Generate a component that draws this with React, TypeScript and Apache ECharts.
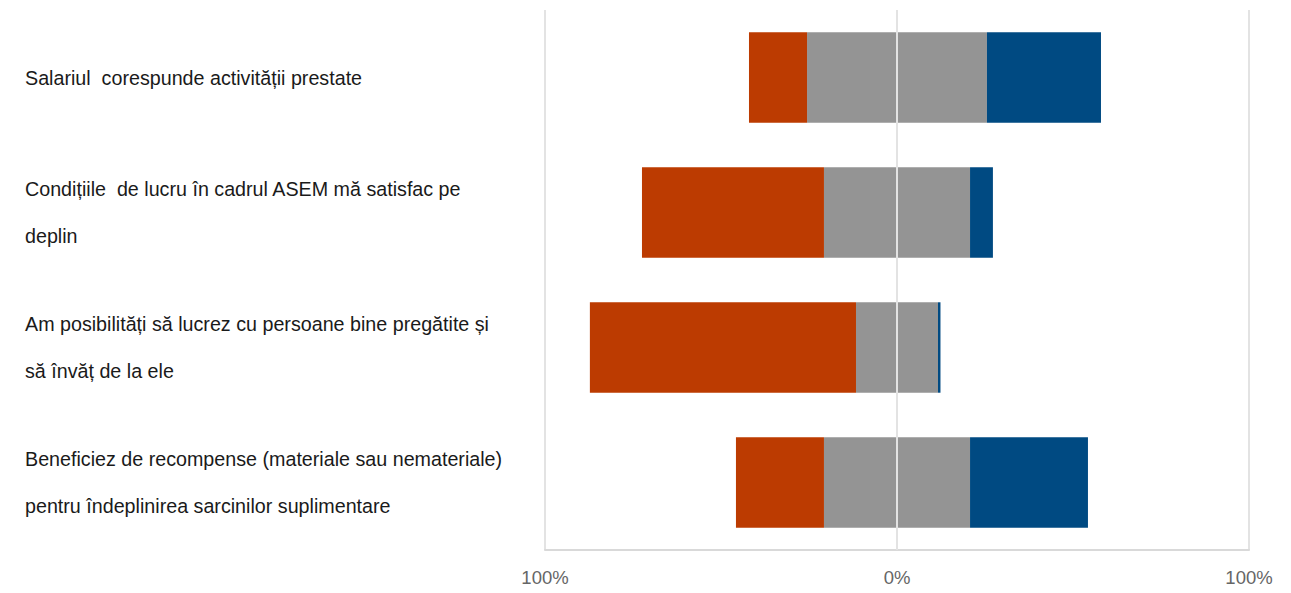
import React, { useEffect, useRef } from "react";
import * as echarts from "echarts";

const categories = [
  "Salariul  corespunde activității prestate",
  "Condițiile  de lucru în cadrul ASEM mă satisfac pe\ndeplin",
  "Am posibilități să lucrez cu persoane bine pregătite și\nsă învăț de la ele",
  "Beneficiez de recompense (materiale sau nemateriale)\npentru îndeplinirea sarcinilor suplimentare",
];
const disagree = [16.5, 51.7, 75.6, 25.0];
const neutral = [51.1, 41.5, 23.3, 41.5];
const agree = [32.4, 6.5, 0.7, 33.5];
const axisTicks = [-100, 0, 100];

const ORANGE = "#bc3b01";
const GRAY = "#949494";
const BLUE = "#004a82";
const FONT = "'Liberation Sans', Arial, sans-serif";

export default function App() {
  const ref = useRef<HTMLDivElement>(null);
  useEffect(() => {
    if (!ref.current) return;
    const chart = echarts.init(ref.current, null, { renderer: "svg" });
    const negNeutral = neutral.map((v) => -v / 2);
    const posNeutral = neutral.map((v) => v / 2);
    const negDisagree = disagree.map((v) => -v);
    chart.setOption({
      animation: false,
      grid: { left: 545, right: 42, top: 10, bottom: 43, containLabel: false },
      xAxis: {
        type: "value",
        min: axisTicks[0],
        max: axisTicks[axisTicks.length - 1],
        interval: 100,
        axisLine: { show: true, lineStyle: { color: "#d9d9d9", width: 2 } },
        axisTick: { show: false },
        splitLine: { show: true, lineStyle: { color: "#e3e3e3", width: 2 } },
        axisLabel: {
          formatter: (v: number) => Math.abs(v) + "%",
          color: "#666666",
          fontSize: 18.5,
          fontFamily: FONT,
          margin: 18,
        },
      },
      yAxis: {
        type: "category",
        data: categories,
        inverse: true,
        axisLine: { show: false },
        axisTick: { show: false },
        axisLabel: {
          align: "left",
          margin: 520,
          color: "#1a1a1a",
          fontSize: 19.7,
          lineHeight: 47,
          fontFamily: FONT,
          padding: [18, 0, 0, 0],
        },
      },
      series: [
        {
          name: "neutralNeg",
          type: "bar",
          stack: "total",
          data: negNeutral,
          barWidth: "67%",
          itemStyle: { color: GRAY },
        },
        {
          name: "disagree",
          type: "bar",
          stack: "total",
          data: negDisagree,
          itemStyle: { color: ORANGE },
        },
        {
          name: "neutralPos",
          type: "bar",
          stack: "total",
          data: posNeutral,
          itemStyle: { color: GRAY },
        },
        {
          name: "agree",
          type: "bar",
          stack: "total",
          data: agree,
          itemStyle: { color: BLUE },
          markLine: {
            silent: true,
            symbol: "none",
            label: { show: false },
            lineStyle: { color: "#e3e3e3", width: 2, type: "solid" },
            data: [{ xAxis: 0 }],
          },
        },
      ],
    });
    return () => chart.dispose();
  }, []);
  return (
    <div
      ref={ref}
      style={{ position: "fixed", left: 0, top: 0, width: "1291px", height: "593px", background: "#fff" }}
    />
  );
}
